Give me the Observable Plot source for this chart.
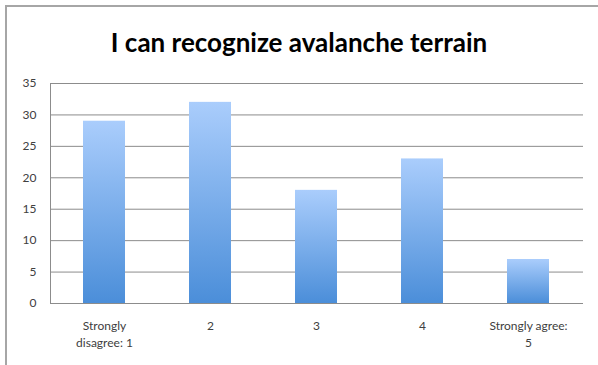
<!DOCTYPE html>
<html>
<head>
<meta charset="utf-8">
<script src="https://cdn.jsdelivr.net/npm/d3@7"></script>
<script src="https://cdn.jsdelivr.net/npm/@observablehq/plot@0.6"></script>
<style>
  html, body { margin: 0; padding: 0; background: #fff; overflow: hidden; }
  #wrap { position: relative; width: 598px; height: 365px; }
  #frame { position: absolute; left: 5px; top: 5px; width: 700px; height: 500px;
           border-top: 2px solid #a6a6a6; border-left: 2px solid #a6a6a6; box-sizing: border-box; }
  #title { position: absolute; left: 0; top: 26px; width: 598px; text-align: center;
           font-family: Lato, "Open Sans", sans-serif; font-weight: 700; font-size: 26px; color: #000; }
  #chart { position: absolute; left: 0; top: 70px; }
</style>
</head>
<body>
<div id="wrap">
  <div id="frame"></div>
  <div id="title">I can recognize avalanche terrain</div>
  <div id="chart"></div>
</div>
<script>
const categories = ["Strongly disagree: 1", "2", "3", "4", "Strongly agree: 5"];
const tickLabels = ["Strongly\ndisagree: 1", "2", "3", "4", "Strongly agree:\n5"];
const values = [29, 32, 18, 23, 7];
const yTicks = [0, 5, 10, 15, 20, 25, 30, 35];

const data = categories.map((c, i) => ({category: c, value: values[i]}));
const labelOf = new Map(categories.map((c, i) => [c, tickLabels[i]]));

const plot = Plot.plot({
  width: 598,
  height: 295,
  marginTop: 13,
  marginBottom: 62,
  marginLeft: 50,
  marginRight: 15,
  style: {fontFamily: "Lato, 'Open Sans', sans-serif", fontSize: "12px", color: "#404040", background: "transparent"},
  x: {domain: categories, paddingInner: 0.6, paddingOuter: 0.3, label: null},
  y: {domain: [0, 35], label: null},
  marks: [
    Plot.ruleY(yTicks, {stroke: "#8c8c8c", strokeWidth: 1, strokeOpacity: 1}),
    Plot.frame({anchor: "left", stroke: "#8c8c8c", strokeOpacity: 1}),
    Plot.barY(data, {x: "category", y: "value", fill: "url(#barGrad)"}),
    Plot.axisY({ticks: yTicks, tickSize: 0, tickPadding: 14, label: null, fontSize: 12}),
    Plot.axisX({tickSize: 0, tickPadding: 15, label: null, fontSize: 12, lineHeight: 1.4,
                tickFormat: d => labelOf.get(d), lineAnchor: "top"})
  ]
});

const defs = d3.select(plot).insert("defs", ":first-child");
const g = defs.append("linearGradient").attr("id", "barGrad")
  .attr("x1", 0).attr("y1", 0).attr("x2", 0).attr("y2", 1);
g.append("stop").attr("offset", "0%").attr("stop-color", "#aacdfc");
g.append("stop").attr("offset", "100%").attr("stop-color", "#4b8ed9");

document.getElementById("chart").appendChild(plot);
</script>
</body>
</html>
